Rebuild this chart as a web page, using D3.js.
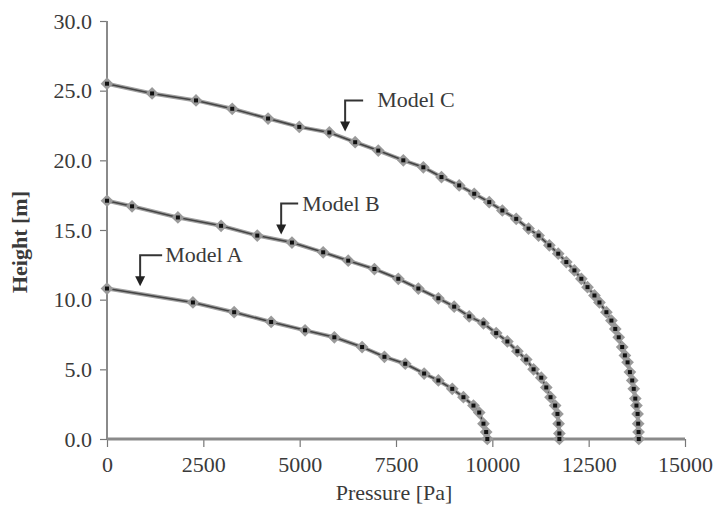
<!DOCTYPE html>
<meta charset="utf-8">
<script src="https://d3js.org/d3.v7.min.js"></script>
<style>
body { margin: 0; background: #fff; }
</style>
<div id="my_dataviz"></div>
<script>

// values (pressure in Pa, height in m)
var modelA_p = [0, 2230, 3300, 4260, 5140, 5900, 6620, 7200, 7740, 8230, 8600, 8960, 9250, 9510, 9660, 9770, 9840, 9870];
var modelA_h = [10.8, 9.8, 9.1, 8.4, 7.8, 7.3, 6.6, 5.9, 5.4, 4.7, 4.2, 3.6, 3.0, 2.4, 1.9, 1.1, 0.5, 0.0];

var modelB_p = [0, 650, 1840, 2960, 3900, 4800, 5610, 6260, 6940, 7560, 8080, 8600, 9010, 9400, 9770, 10100, 10390, 10650, 10880, 11070, 11270, 11400, 11510, 11630, 11690, 11720, 11740, 11740];
var modelB_h = [17.1, 16.7, 15.9, 15.3, 14.6, 14.1, 13.4, 12.8, 12.2, 11.5, 10.8, 10.1, 9.5, 8.8, 8.3, 7.6, 7.0, 6.3, 5.7, 5.0, 4.4, 3.7, 3.0, 2.4, 1.8, 1.1, 0.4, 0.0];

var modelC_p = [0, 1170, 2310, 3250, 4180, 4990, 5770, 6440, 7040, 7690, 8210, 8680, 9140, 9530, 9920, 10260, 10620, 10940, 11200, 11480, 11710, 11920, 12130, 12310, 12470, 12650, 12780, 12960, 13090, 13190, 13280, 13370, 13440, 13510, 13570, 13630, 13670, 13710, 13740, 13770, 13785, 13795, 13800];
var modelC_h = [25.5, 24.8, 24.3, 23.7, 23.0, 22.4, 22.0, 21.3, 20.7, 20.0, 19.5, 18.8, 18.2, 17.6, 17.0, 16.4, 15.8, 15.1, 14.6, 13.9, 13.3, 12.7, 12.1, 11.5, 10.9, 10.3, 9.8, 9.1, 8.5, 7.9, 7.3, 6.6, 6.0, 5.5, 4.8, 4.2, 3.6, 2.9, 2.4, 1.8, 1.1, 0.5, 0.0];

var xTicks = [0, 2500, 5000, 7500, 10000, 12500, 15000];
var yTicks = [0, 5, 10, 15, 20, 25, 30];

// labels: name and the point on the curve the arrow points at
var labelNames = ["Model A", "Model B", "Model C"];
var labelP = [860, 4520, 6180];
var labelH = [10.9, 14.6, 22.0];

var FONT = '"Liberation Serif", "DejaVu Serif", "Times New Roman", serif';

var margin = {top: 21, right: 32, bottom: 67, left: 107},
    width = 717 - margin.left - margin.right,
    height = 506 - margin.top - margin.bottom;

var svg = d3.select("#my_dataviz")
  .append("svg")
    .attr("width", 717)
    .attr("height", 506)
  .append("g")
    .attr("transform", "translate(" + margin.left + "," + margin.top + ")");

var x = d3.scaleLinear().domain([0, 15000]).range([0, width]);
var y = d3.scaleLinear().domain([0, 30]).range([height, 0]);

// Y axis
var yAxis = svg.append("g")
  .call(d3.axisLeft(y).tickValues(yTicks).tickFormat(d3.format(".1f")).tickSize(7).tickPadding(8));
yAxis.attr("font-family", null).attr("font-size", null);
yAxis.select(".domain").remove();
yAxis.append("line").attr("x1", 0).attr("x2", 0).attr("y1", 0).attr("y2", height)
  .attr("stroke", "#8a8a8a").attr("stroke-width", 2);
yAxis.selectAll(".tick line").attr("stroke", "#777").attr("stroke-width", 1.2);
yAxis.selectAll(".tick text")
  .style("font-family", FONT).style("font-size", "22px").attr("fill", "#3a3a3a");

// X axis
var xAxis = svg.append("g")
  .attr("transform", "translate(0," + height + ")")
  .call(d3.axisBottom(x).tickValues(xTicks).tickFormat(d3.format("d")).tickSize(8).tickPadding(9));
xAxis.attr("font-family", null).attr("font-size", null);
xAxis.select(".domain").remove();
xAxis.append("line").attr("x1", 0).attr("x2", width).attr("y1", 0).attr("y2", 0)
  .attr("stroke", "#8a8a8a").attr("stroke-width", 3);
xAxis.selectAll(".tick line").attr("stroke", "#777").attr("stroke-width", 1.2);
xAxis.selectAll(".tick text")
  .style("font-family", FONT).style("font-size", "22px").attr("fill", "#3a3a3a");

// axis titles
svg.append("text")
  .attr("x", x(7500) - 2)
  .attr("y", height + 61)
  .attr("text-anchor", "middle")
  .style("font-family", FONT)
  .style("font-size", "22px")
  .attr("fill", "#3a3a3a")
  .text("Pressure [Pa]");

svg.append("text")
  .attr("transform", "translate(-80," + (y(15) + 12) + ") rotate(-90)")
  .attr("text-anchor", "middle")
  .style("font-family", FONT)
  .style("font-size", "22px")
  .style("font-weight", "bold")
  .attr("fill", "#3a3a3a")
  .text("Height [m]");

// curves
var series = [
  {p: modelA_p, h: modelA_h},
  {p: modelB_p, h: modelB_h},
  {p: modelC_p, h: modelC_h}
];

var line = d3.line()
  .x(function(d) { return x(d[0]); })
  .y(function(d) { return y(d[1]); });

series.forEach(function(s) {
  var pts = s.p.map(function(v, i) { return [v, s.h[i]]; });

  svg.append("path")
    .datum(pts)
    .attr("fill", "none")
    .attr("stroke", "#a0a0a0")
    .attr("stroke-width", 4)
    .attr("d", line);
  svg.append("path")
    .datum(pts)
    .attr("fill", "none")
    .attr("stroke", "#444")
    .attr("stroke-width", 1.6)
    .attr("d", line);

  var g = svg.append("g");
  g.selectAll("rect.halo")
    .data(pts)
    .enter()
    .append("rect")
      .attr("class", "halo")
      .attr("x", -4.5).attr("y", -4.5).attr("width", 9).attr("height", 9)
      .attr("transform", function(d) { return "translate(" + x(d[0]) + "," + y(d[1]) + ") rotate(45)"; })
      .attr("fill", "#9a9a9a");
  g.selectAll("rect.core")
    .data(pts)
    .enter()
    .append("rect")
      .attr("class", "core")
      .attr("x", function(d) { return x(d[0]) - 2; })
      .attr("y", function(d) { return y(d[1]) - 2; })
      .attr("width", 4).attr("height", 4)
      .attr("fill", "#111");
});

// labels with bent arrows (bracket length and text gap differ a little per label)
var bracketLen = [22, 17, 18];
var textGap = [25, 21, 32];

labelNames.forEach(function(name, i) {
  var tx = x(labelP[i]), ty = y(labelH[i]);
  var top = ty - 32;
  var g = svg.append("g");
  g.append("path")
    .attr("d", "M" + (tx + bracketLen[i]) + "," + top + " H" + tx + " V" + (ty - 9))
    .attr("fill", "none")
    .attr("stroke", "#333")
    .attr("stroke-width", 2);
  g.append("path")
    .attr("d", "M" + (tx - 5) + "," + (ty - 11) + " L" + (tx + 5) + "," + (ty - 11) + " L" + tx + "," + (ty - 1) + " Z")
    .attr("fill", "#222");
  g.append("text")
    .attr("x", tx + textGap[i])
    .attr("y", top + 7)
    .style("font-family", FONT)
    .style("font-size", "22px")
    .attr("fill", "#3a3a3a")
    .text(name);
});

</script>
